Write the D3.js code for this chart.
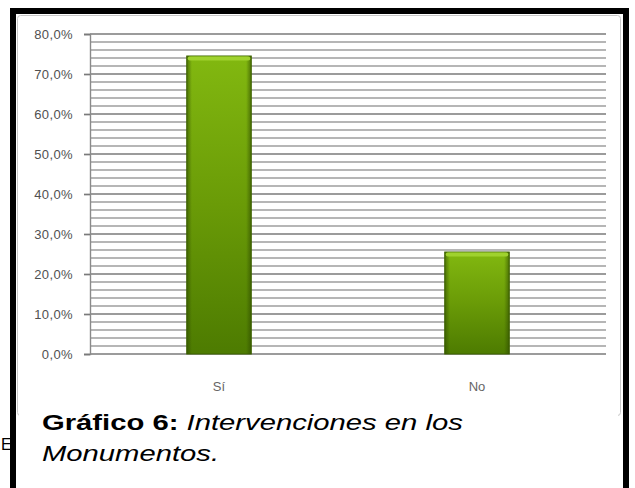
<!DOCTYPE html>
<html>
<head>
<meta charset="utf-8">
<script src="https://cdn.jsdelivr.net/npm/d3@7"></script>
<style>
  body { margin: 0; background: #fff; }
  svg { display: block; font-family: "Liberation Sans", Arial, sans-serif; }
</style>
</head>
<body>
<div id="chart"></div>
<script>
// data
var categories = ['Sí', 'No'];
var values = [74.5, 25.5];
var yTicks = [0, 10, 20, 30, 40, 50, 60, 70, 80];
var captionBold = 'Gráfico 6:';
var captionItalic1 = ' Intervenciones en los';
var captionItalic2 = 'Monumentos.';

var W = 635, H = 488;
var plot = {left: 90, right: 606, top: 34, bottom: 354};

var svg = d3.select('#chart').append('svg')
  .attr('width', W)
  .attr('height', H);

var defs = svg.append('defs');
var grad = defs.append('linearGradient')
  .attr('id', 'barGrad')
  .attr('x1', 0).attr('y1', 0).attr('x2', 0).attr('y2', 1);
grad.append('stop').attr('offset', '0%').attr('stop-color', '#82b810');
grad.append('stop').attr('offset', '50%').attr('stop-color', '#6a9b07');
grad.append('stop').attr('offset', '100%').attr('stop-color', '#4d7b01');

var side = defs.append('linearGradient')
  .attr('id', 'sideGrad')
  .attr('x1', 0).attr('y1', 0).attr('x2', 1).attr('y2', 0);
side.append('stop').attr('offset', '0%').attr('stop-color', '#2e4a00').attr('stop-opacity', 0.6);
side.append('stop').attr('offset', '8%').attr('stop-color', '#2e4a00').attr('stop-opacity', 0);
side.append('stop').attr('offset', '92%').attr('stop-color', '#2e4a00').attr('stop-opacity', 0);
side.append('stop').attr('offset', '100%').attr('stop-color', '#2e4a00').attr('stop-opacity', 0.6);

// "El" fragment peeking out at the left, behind the frame
svg.append('text')
  .attr('x', 1).attr('y', 450)
  .attr('font-size', 16)
  .attr('fill', '#000')
  .text('El');

// light inner border of the chart picture
svg.append('rect')
  .attr('x', 17.5).attr('y', 15.5)
  .attr('width', 603).attr('height', 400)
  .attr('rx', 3)
  .attr('fill', '#fff')
  .attr('stroke', '#c8c8c8');

var x = d3.scaleBand()
  .domain(categories)
  .range([plot.left, plot.right])
  .paddingInner(0.75)
  .paddingOuter(0.375);

var y = d3.scaleLinear()
  .domain([0, 80])
  .range([plot.bottom, plot.top]);

// minor gridlines every 2%
svg.append('g')
  .selectAll('line')
  .data(y.ticks(40).filter(function(d){ return d % 10 != 0; }))
  .enter().append('line')
  .attr('x1', plot.left).attr('x2', plot.right)
  .attr('y1', function(d){ return y(d); })
  .attr('y2', function(d){ return y(d); })
  .attr('stroke', '#9e9e9e')
  .attr('stroke-width', 1.4);

// major gridlines
svg.append('g')
  .selectAll('line')
  .data(yTicks)
  .enter().append('line')
  .attr('x1', plot.left).attr('x2', plot.right)
  .attr('y1', function(d){ return y(d); })
  .attr('y2', function(d){ return y(d); })
  .attr('stroke', '#7a7a7a')
  .attr('stroke-width', 1.7);

// y axis
var yAxis = svg.append('g')
  .attr('transform', 'translate(' + plot.left + ',0)')
  .call(d3.axisLeft(y)
    .tickValues(yTicks)
    .tickSize(6)
    .tickPadding(11)
    .tickFormat(function(d){ return d.toFixed(1).replace('.', ',') + '%'; }));
yAxis.select('.domain').attr('stroke', '#8a8a8a').attr('stroke-width', 1.4);
yAxis.selectAll('.tick line').attr('stroke', '#7a7a7a').attr('stroke-width', 1.7);
yAxis.selectAll('.tick text')
  .attr('font-size', 13)
  .attr('letter-spacing', 0.4)
  .attr('font-family', '"Liberation Sans", Arial, sans-serif')
  .attr('fill', '#505050');

// bars
var bars = svg.append('g').selectAll('g.bar')
  .data(values)
  .enter().append('g').attr('class', 'bar');
bars.append('rect')
  .attr('x', function(d, i){ return x(categories[i]); })
  .attr('y', function(d){ return y(d); })
  .attr('width', x.bandwidth())
  .attr('height', function(d){ return y(0) - y(d); })
  .attr('fill', 'url(#barGrad)')
  .attr('stroke', '#3f6500')
  .attr('stroke-width', 1);
bars.append('rect')
  .attr('x', function(d, i){ return x(categories[i]); })
  .attr('y', function(d){ return y(d); })
  .attr('width', x.bandwidth())
  .attr('height', function(d){ return y(0) - y(d); })
  .attr('fill', 'url(#sideGrad)');
bars.append('rect')
  .attr('x', function(d, i){ return x(categories[i]) + 1; })
  .attr('y', function(d){ return y(d) + 0.5; })
  .attr('width', x.bandwidth() - 2)
  .attr('height', 4)
  .attr('rx', 2)
  .attr('fill', '#9fd22e');

// x axis labels
var xAxis = svg.append('g')
  .attr('transform', 'translate(0,' + plot.bottom + ')')
  .call(d3.axisBottom(x).tickSize(0).tickPadding(28));
xAxis.select('.domain').remove();
xAxis.selectAll('.tick text')
  .attr('font-size', 13)
  .attr('font-family', '"Liberation Sans", Arial, sans-serif')
  .attr('fill', '#666');

// caption box covering the bottom of the chart picture
svg.append('rect')
  .attr('x', 19).attr('y', 414)
  .attr('width', 599).attr('height', 80)
  .attr('fill', '#fff');

var cap = svg.append('g')
  .attr('transform', 'translate(42,0) scale(1.3,1)');
var line1 = cap.append('text')
  .attr('x', 0).attr('y', 430)
  .attr('font-size', 22.5)
  .attr('fill', '#000');
line1.append('tspan').attr('font-weight', 'bold').text(captionBold);
line1.append('tspan').attr('font-style', 'italic').text(captionItalic1);
cap.append('text')
  .attr('x', 0).attr('y', 461)
  .attr('font-size', 22.5)
  .attr('font-style', 'italic')
  .attr('fill', '#000')
  .text(captionItalic2);

// black frame
svg.append('rect')
  .attr('x', 13).attr('y', 11)
  .attr('width', 613).attr('height', 520)
  .attr('fill', 'none')
  .attr('stroke', '#000')
  .attr('stroke-width', 6);
</script>
</body>
</html>
